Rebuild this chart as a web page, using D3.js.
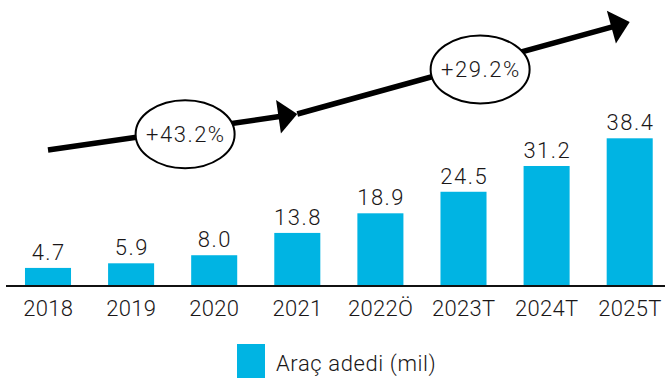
<!DOCTYPE html>
<html><head><meta charset="utf-8">
<script src="https://cdn.jsdelivr.net/npm/d3@7"></script>
<style>
html,body{margin:0;padding:0;background:#fff;}
svg{display:block;}
text{font-family:Roboto,"Liberation Sans",sans-serif;font-weight:300;fill:#1a1718;}
</style></head>
<body>
<script>
// ---- data ----
const categories = ["2018","2019","2020","2021","2022Ö","2023T","2024T","2025T"];
const values = [4.7, 5.9, 8.0, 13.8, 18.9, 24.5, 31.2, 38.4];
const valueLabels = ["4.7","5.9","8.0","13.8","18.9","24.5","31.2","38.4"];
const growthFrom = ["2018","2021"];
const growthTo = ["2021","2025T"];
const growthLabels = ["+43.2%","+29.2%"];
const legendLabel = "Araç adedi (mil)";

// ---- layout ----
const W = 665, H = 378;
const baseY = 286;
const barColor = "#00b4e3";
const svg = d3.select("body").append("svg").attr("width", W).attr("height", H);

const x = d3.scaleBand().domain(categories).range([6.45, 671.25]).paddingInner(0.446).paddingOuter(0.223);
const y = d3.scaleLinear().domain([0, 38.4]).range([baseY, 138.3]);

// bars
svg.selectAll("rect.bar").data(values).join("rect").attr("class","bar")
  .attr("x", (d,i) => x(categories[i]))
  .attr("width", x.bandwidth())
  .attr("y", d => y(d))
  .attr("height", d => baseY - y(d))
  .attr("fill", barColor);

// value labels
svg.selectAll("text.val").data(values).join("text").attr("class","val")
  .attr("x", (d,i) => x(categories[i]) + x.bandwidth()/2 + 0.75)
  .attr("y", d => y(d) - 8)
  .attr("text-anchor","middle")
  .style("font-size","22px").style("letter-spacing","1.5px")
  .text((d,i) => valueLabels[i]);

// x axis
const xAxis = d3.axisBottom(x).tickSize(0).tickPadding(0);
const gx = svg.append("g").attr("transform", `translate(0,${baseY})`).call(xAxis);
gx.select(".domain").remove();
gx.selectAll("text").attr("dy", null).attr("y", 30).attr("dx", 0.15)
  .style("font-size","22px").style("letter-spacing","0.3px")
  .style("font-family",'Roboto,"Liberation Sans",sans-serif').style("font-weight","300").attr("fill","#1a1718");
svg.append("line").attr("x1",6).attr("x2",W).attr("y1",baseY).attr("y2",baseY)
  .attr("stroke","#111").attr("stroke-width",2);

// growth arrows (y positions are layout)
const arrowStartY = [150, 114];
const arrowEndY = [114, 22];
const headLen = 19, headHalf = 17;
growthLabels.forEach((lab, i) => {
  const x0 = x(growthFrom[i]) + x.bandwidth()/2;
  const x1 = x(growthTo[i]) + x.bandwidth()/2;
  const y0 = arrowStartY[i], y1 = arrowEndY[i];
  const ang = Math.atan2(y1 - y0, x1 - x0);
  const bx = x1 - headLen*Math.cos(ang), by = y1 - headLen*Math.sin(ang);
  svg.append("line").attr("x1",x0).attr("y1",y0).attr("x2",bx+Math.cos(ang)).attr("y2",by+Math.sin(ang))
    .attr("stroke","#000").attr("stroke-width",5.5);
  const px = -Math.sin(ang), py = Math.cos(ang);
  svg.append("path")
    .attr("d", `M${x1},${y1}L${bx+px*headHalf},${by+py*headHalf}L${bx-px*headHalf},${by-py*headHalf}Z`)
    .attr("fill","#000");
  const t = 0.55;
  const cx = x0 + (x1-x0)*t, cy = y0 + (y1-y0)*t + (i===0?4:6);
  svg.append("ellipse").attr("cx",cx).attr("cy",cy).attr("rx",49.5).attr("ry",34)
    .attr("fill","#fff").attr("stroke","#000").attr("stroke-width",2);
  svg.append("text").attr("x",cx+0.75).attr("y",cy+8).attr("text-anchor","middle")
    .style("font-size","22px").style("letter-spacing","1.5px").text(lab);
});

// legend
svg.append("rect").attr("x",237).attr("y",344).attr("width",28).attr("height",34).attr("fill",barColor);
svg.append("text").attr("x",276).attr("y",371).style("font-size","22px").style("letter-spacing","0.6px").text(legendLabel);
</script>
</body></html>
